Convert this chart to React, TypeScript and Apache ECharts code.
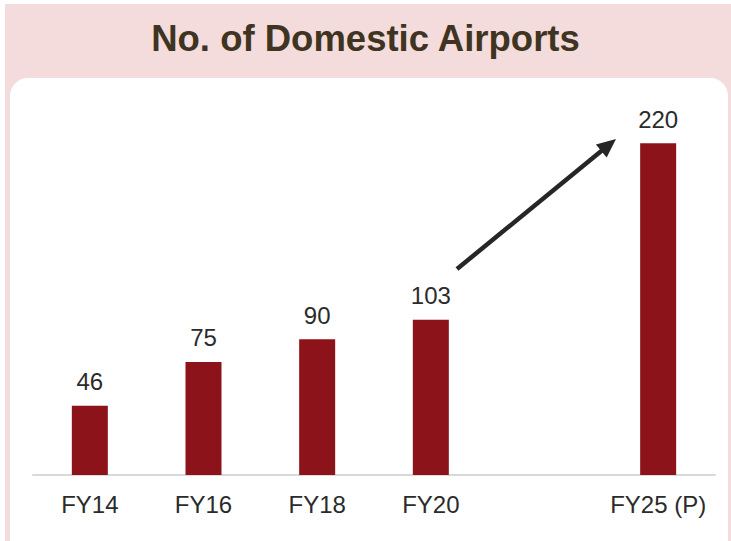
import React, { useEffect, useRef } from "react";
import * as echarts from "echarts";

const categories = ["FY14", "FY16", "FY18", "FY20", "", "FY25 (P)"];
const airports: (number | string)[] = [46, 75, 90, 103, "-", 220];
const titleText = "No. of Domestic Airports";

const FONT = "'Liberation Sans', Arial, sans-serif";

export default function App() {
  const ref = useRef<HTMLDivElement>(null);
  useEffect(() => {
    if (!ref.current) return;
    const chart = echarts.init(ref.current, undefined, { renderer: "svg" });
    // arrow geometry (annotation)
    const tail = [457, 269];
    const tip = [616, 139];
    const dx = tip[0] - tail[0];
    const dy = tip[1] - tail[1];
    const len = Math.sqrt(dx * dx + dy * dy);
    const ux = dx / len, uy = dy / len;
    const hl = 19, hw = 8.5;
    const bx = tip[0] - hl * ux, by = tip[1] - hl * uy;
    const nx = -uy, ny = ux;
    chart.setOption({
      animation: false,
      backgroundColor: "#ffffff",
      title: {
        text: titleText,
        left: "center",
        top: 15,
        textStyle: { fontFamily: FONT, fontSize: 36.5, fontWeight: "bold", color: "#3f3421" },
      },
      graphic: [
        {
          type: "rect",
          z: -10,
          shape: { x: 5, y: 4, width: 740, height: 560 },
          style: { fill: "#f3dcdb" },
        },
        {
          type: "rect",
          z: -9,
          shape: { x: 10, y: 78, width: 718, height: 500, r: 18 },
          style: { fill: "#ffffff" },
        },
        {
          type: "line",
          z: 10,
          shape: { x1: tail[0], y1: tail[1], x2: bx + 2 * ux, y2: by + 2 * uy },
          style: { stroke: "#262626", lineWidth: 4.5, lineCap: "butt" },
        },
        {
          type: "polygon",
          z: 10,
          shape: {
            points: [
              [tip[0], tip[1]],
              [bx + hw * nx, by + hw * ny],
              [bx - hw * nx, by - hw * ny],
            ],
          },
          style: { fill: "#262626" },
        },
      ],
      grid: { left: 33, right: 16, top: 98, bottom: 66, containLabel: false },
      xAxis: {
        type: "category",
        data: categories,
        axisLine: { show: true, lineStyle: { color: "#d9d9d9", width: 2 } },
        axisTick: { show: false },
        axisLabel: {
          interval: 0,
          hideOverlap: false,
          fontFamily: FONT,
          fontSize: 24,
          color: "#2b2b2b",
          margin: 17,
        },
      },
      yAxis: {
        type: "value",
        min: 0,
        max: 250,
        show: false,
        splitLine: { show: false },
      },
      series: [
        {
          type: "bar",
          data: airports,
          barWidth: 36,
          itemStyle: { color: "#8c131a" },
          label: {
            show: true,
            position: "top",
            distance: 12,
            fontFamily: FONT,
            fontSize: 24,
            color: "#2b2b2b",
          },
        },
      ],
    });
    return () => chart.dispose();
  }, []);
  return (
    <div
      ref={ref}
      style={{ position: "fixed", left: 0, top: 0, width: 731, height: 541 }}
    />
  );
}
